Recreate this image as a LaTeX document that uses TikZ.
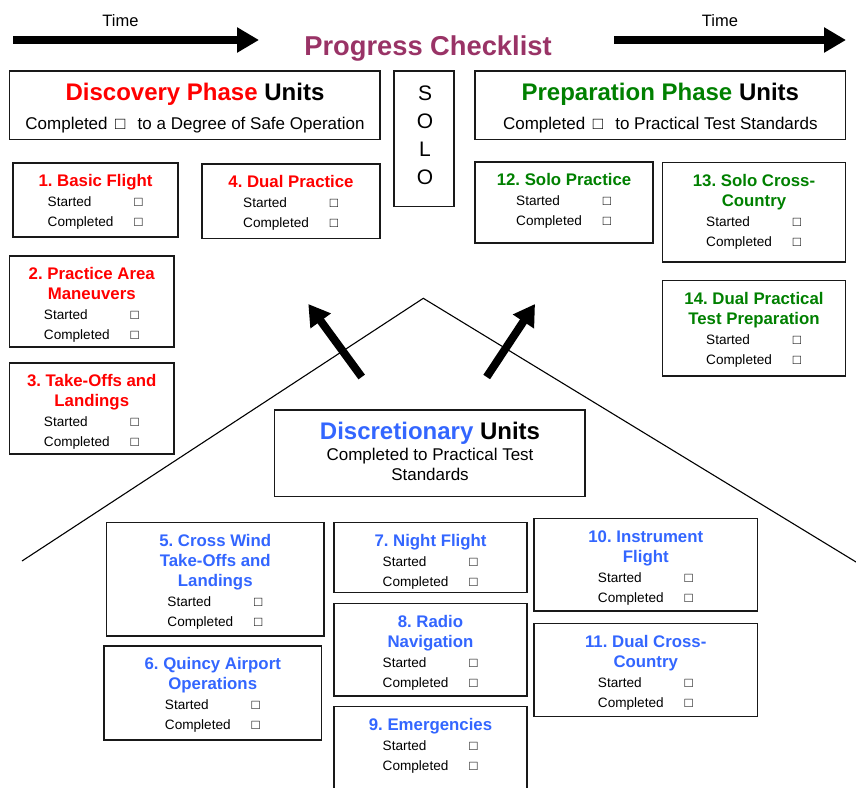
\documentclass[tikz,border=0pt]{standalone}
\usepackage{fontspec}
\setmainfont{Liberation Sans}
\usetikzlibrary{arrows.meta}
\frenchspacing

\definecolor{titleplum}{RGB}{153,51,102}
\definecolor{discoveryred}{RGB}{255,0,0}
\definecolor{prepgreen}{RGB}{0,128,0}
\definecolor{discblue}{RGB}{51,102,255}

\newcommand\tickbox{□}

% One unit card: name, left, top, right, bottom, colour, title lines, number of title lines
\newcommand\progressunit[8]{%
  \pgfmathsetmacro\puw{#4-#2}%
  \pgfmathsetmacro\puh{#5-#3}%
  \pgfmathsetmacro\pucx{(#2+#4)/2}%
  \pgfmathsetmacro\pury{#3+23.5+20*#8}%
  \node[frame, minimum width=\puw pt, minimum height=\puh pt] (#1) at (#2,#3) {};
  \foreach \titleline [count=\k from 0] in {#7}
    \node[unittitle, text=#6] (#1-title\k) at (\pucx,#3+23.5+20*\k) {\titleline};
  \node[rowlabel] (#1-started) at (\pucx-48,\pury) {Started};
  \node[rowbox] (#1-startedbox) at (\pucx+43,\pury) {\tickbox};
  \node[rowlabel] (#1-completed) at (\pucx-48,\pury+20) {Completed};
  \node[rowbox] (#1-completedbox) at (\pucx+43,\pury+20) {\tickbox};
}

\begin{document}
\begin{tikzpicture}[x=1pt,y=-1pt,
  frame/.style={draw=black!90, line width=1.1pt, inner sep=0pt, outer sep=0pt, anchor=north west},
  unittitle/.style={anchor=base, inner sep=0pt, font=\fontsize{16.8}{20}\selectfont\bfseries},
  rowlabel/.style={anchor=base west, inner sep=0pt, font=\fontsize{13.6}{16}\selectfont},
  rowbox/.style={anchor=base, inner sep=0pt, font=\fontsize{13.6}{16}\selectfont},
  headtitle/.style={anchor=base, inner sep=0pt, font=\fontsize{24}{28}\selectfont\bfseries},
  headsub/.style={anchor=base, inner sep=0pt, font=\fontsize{17}{20}\selectfont},
  timelabel/.style={anchor=base, inner sep=0pt, font=\fontsize{16.5}{20}\selectfont},
  sololetter/.style={anchor=base, inner sep=0pt, font=\fontsize{21}{24}\selectfont},
  timearrow/.style={line width=8pt, -{Triangle[length=22pt,width=24pt]}},
  boldarrow/.style={line width=8pt, -{Triangle[length=21pt,width=24pt]}},
  roof/.style={draw=black, line width=1.1pt}]

\useasboundingbox (0,0) rectangle (856,787);
\clip (0,0) rectangle (856,787);

% time arrows and heading
\node[timelabel] (timeL) at (120.5,26) {Time};
\node[timelabel] (timeR) at (720,26) {Time};
\coordinate (timeLa) at (13,40);
\coordinate (timeLb) at (259,40);
\coordinate (timeRa) at (614,40);
\coordinate (timeRb) at (846,40);
\draw[timearrow] (timeLa) -- (timeLb);
\draw[timearrow] (timeRa) -- (timeRb);
\node[anchor=base, inner sep=0pt, text=titleplum, font=\fontsize{27.3}{30}\selectfont\bfseries] (title) at (428,55) {Progress Checklist};

% phase headers
\node[frame, minimum width=370.5pt, minimum height=68.5pt] (discovery) at (9.5,71) {};
\node[headtitle] (discovery-t) at (195,100.7) {\textcolor{discoveryred}{Discovery Phase} Units};
\node[headsub] (discovery-s) at (195,129.3) {Completed \,\tickbox\ \, to a Degree of Safe Operation};

\node[frame, minimum width=370.5pt, minimum height=68.5pt] (preparation) at (475,71) {};
\node[headtitle] (preparation-t) at (660.3,100.7) {\textcolor{prepgreen}{Preparation Phase} Units};
\node[headsub] (preparation-s) at (660.3,129.3) {Completed \,\tickbox\ \, to Practical Test Standards};

\node[frame, minimum width=60pt, minimum height=135.7pt] (solo) at (394,71) {};
\node[sololetter] (solo1) at (425,100.7) {S};
\node[sololetter] (solo2) at (425,128.8) {O};
\node[sololetter] (solo3) at (425,156.5) {L};
\node[sololetter] (solo4) at (425,184.2) {O};

% roof over the discretionary units
\coordinate (roofL) at (22,561);
\coordinate (apex) at (423.3,298.3);
\coordinate (roofR) at (870,570.5);
\draw[roof] (roofL) -- (apex) -- (roofR);

\coordinate (upLa) at (361.7,377);
\coordinate (upLb) at (308.3,304);
\coordinate (upRa) at (486.7,377);
\coordinate (upRb) at (535,304);
\draw[boldarrow] (upLa) -- (upLb);
\draw[boldarrow] (upRa) -- (upRb);

\node[frame, minimum width=310.5pt, minimum height=86.7pt] (discretionary) at (274.5,410) {};
\node[headtitle] (discretionary-t) at (430,439.3) {\textcolor{discblue}{Discretionary} Units};
\node[headsub] (discretionary-s1) at (430,460) {Completed to Practical Test};
\node[headsub] (discretionary-s2) at (430,480) {Standards};

% discovery phase units
\progressunit{u1}{13}{163}{178}{237}{discoveryred}{1. Basic Flight}{1}
\progressunit{u2}{9.5}{256}{174}{347}{discoveryred}{2. Practice Area, Maneuvers}{2}
\progressunit{u3}{9.5}{363}{174}{454}{discoveryred}{3. Take-Offs and, Landings}{2}
\progressunit{u4}{202}{164}{380}{238.5}{discoveryred}{4. Dual Practice}{1}

% preparation phase units
\progressunit{u12}{475}{162}{653}{243}{prepgreen}{12. Solo Practice}{1}
\progressunit{u13}{662.5}{162.5}{845.5}{262}{prepgreen}{13. Solo Cross-, Country}{2}
\progressunit{u14}{662.5}{280.5}{845.5}{376}{prepgreen}{14. Dual Practical, Test Preparation}{2}

% discretionary units
\progressunit{u5}{106.5}{522.5}{324}{636}{discblue}{5. Cross Wind, Take-Offs and, Landings}{3}
\progressunit{u6}{104}{646}{321.5}{740}{discblue}{6. Quincy Airport, Operations}{2}
\progressunit{u7}{334}{522.5}{527}{592.5}{discblue}{7. Night Flight}{1}
\progressunit{u8}{334}{603.5}{527}{696}{discblue}{8. Radio, Navigation}{2}
\progressunit{u9}{334}{706.5}{527}{800}{discblue}{9. Emergencies}{1}
\progressunit{u10}{534}{518.5}{757.5}{611}{discblue}{10. Instrument, Flight}{2}
\progressunit{u11}{534}{623.5}{757.5}{716.5}{discblue}{11. Dual Cross-, Country}{2}

\end{tikzpicture}
\end{document}
